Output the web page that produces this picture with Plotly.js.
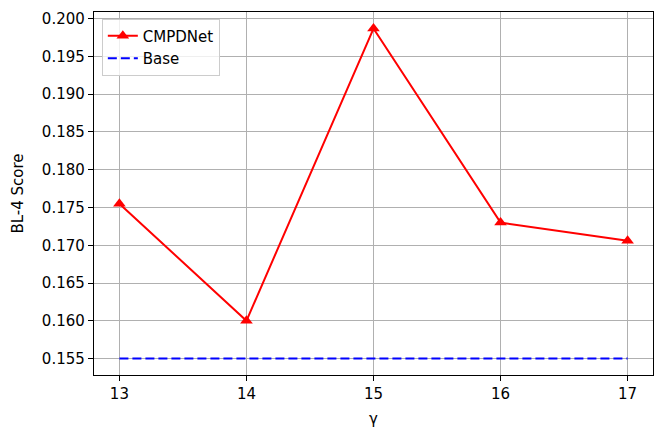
<!DOCTYPE html>
<html>
<head>
<meta charset="utf-8">
<script src="https://cdn.plot.ly/plotly-3.0.1.min.js"></script>
<style>
  body { margin: 0; background: #fff; }
  #chart { width: 665px; height: 438px; }
</style>
</head>
<body>
<div id="chart"></div>
<script>
// gamma values and scores
var gammas = [13, 14, 15, 16, 17];
var cmpdnetScores = [0.1755, 0.1600, 0.1987, 0.1730, 0.1706];
var baseScores = [0.155, 0.155, 0.155, 0.155, 0.155];
var yTicks = [0.155, 0.160, 0.165, 0.170, 0.175, 0.180, 0.185, 0.190, 0.195, 0.200];

var cmpdnet = {
  x: gammas,
  y: cmpdnetScores,
  name: "CMPDNet",
  type: "scatter",
  mode: "lines+markers",
  line: {color: "red", width: 2},
  marker: {symbol: "triangle-up", size: 11, color: "red"}
};

var base = {
  x: gammas,
  y: baseScores,
  name: "Base",
  type: "scatter",
  mode: "lines",
  line: {color: "blue", width: 2, dash: "9px,4px"}
};

var data = [cmpdnet, base];

var fontFamily = "DejaVu Sans, sans-serif";

var layout = {
  width: 665,
  height: 438,
  margin: {l: 94, r: 12, t: 12, b: 63},
  paper_bgcolor: "white",
  plot_bgcolor: "white",
  font: {family: fontFamily, size: 15, color: "black"},
  showlegend: true,
  legend: {
    x: 0.014, y: 0.982, xanchor: "left", yanchor: "top",
    bgcolor: "rgba(255,255,255,0.8)",
    bordercolor: "#cccccc", borderwidth: 1,
    font: {family: fontFamily, size: 15},
    tracegroupgap: 4
  },
  xaxis: {
    title: {text: "γ", font: {size: 15}, standoff: 11},
    range: [12.8, 17.2],
    tickvals: gammas,
    ticks: "outside", ticklen: 5, tickwidth: 1, tickcolor: "black",
    showgrid: true, gridcolor: "#b0b0b0", gridwidth: 1,
    showline: true, linecolor: "black", linewidth: 1.2, mirror: true,
    zeroline: false
  },
  yaxis: {
    title: {text: "BL-4 Score", font: {size: 15}, standoff: 14},
    range: [0.15282, 0.20089],
    tickvals: yTicks,
    tickformat: ".3f",
    ticks: "outside", ticklen: 5, tickwidth: 1, tickcolor: "black",
    showgrid: true, gridcolor: "#b0b0b0", gridwidth: 1,
    showline: true, linecolor: "black", linewidth: 1.2, mirror: true,
    zeroline: false
  }
};

Plotly.newPlot("chart", data, layout, {staticPlot: true});
</script>
</body>
</html>
